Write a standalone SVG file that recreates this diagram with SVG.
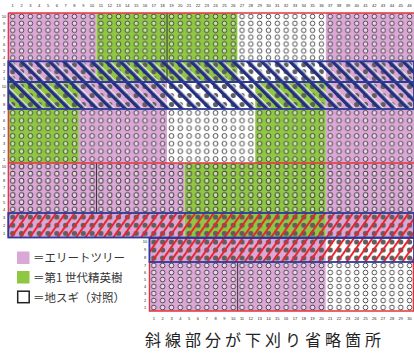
<svg xmlns="http://www.w3.org/2000/svg" width="414" height="356" viewBox="0 0 414 356">
<style>
.oc{fill:#fff;fill-opacity:.5;stroke:#3c3c3c;stroke-width:.9}
.hc{fill:#5e5e5e}
.pk{fill:#dba7d6}
.gr{fill:#8fc743}
.wh{fill:#fff}
.bl{fill:none;stroke:#2b3a9c;stroke-width:1.8}
.rd{fill:none;stroke:#e8303a;stroke-width:1.3}
.dk{fill:none;stroke:#3a3a3a;stroke-width:1}
.n{font-family:"Liberation Sans",Arial,sans-serif;font-size:4px;fill:#222;text-anchor:middle}
.lg{font-family:"Noto Sans CJK JP","Noto Sans",sans-serif;font-size:11.5px;fill:#333}
.cap{font-family:"Noto Sans CJK JP","Noto Sans",sans-serif;font-size:16px;fill:#222;letter-spacing:4px}
</style>
<defs>
<pattern id="pc1" patternUnits="userSpaceOnUse" x="8.3" y="13" width="8.82" height="6.9"><circle class="oc" cx="4.41" cy="3.45" r="2.3"/></pattern>
<pattern id="pc2" patternUnits="userSpaceOnUse" x="8.3" y="109" width="8.82" height="7.7"><circle class="oc" cx="4.41" cy="3.85" r="2.4"/></pattern>
<pattern id="pc3" patternUnits="userSpaceOnUse" x="8.3" y="163" width="8.82" height="7.14"><circle class="oc" cx="4.41" cy="3.57" r="2.35"/></pattern>
<pattern id="pc4" patternUnits="userSpaceOnUse" x="8.3" y="262" width="8.82" height="7"><circle class="oc" cx="4.41" cy="3.5" r="2.35"/></pattern>
<pattern id="ph1" patternUnits="userSpaceOnUse" x="8.3" y="61.3" width="8.82" height="6.9"><circle class="hc" cx="4.41" cy="3.45" r="2.5"/></pattern>
<pattern id="ph2" patternUnits="userSpaceOnUse" x="8.3" y="82" width="8.82" height="9"><circle class="hc" cx="4.41" cy="4.5" r="2.6"/></pattern>
<pattern id="ph3" patternUnits="userSpaceOnUse" x="8.3" y="213" width="8.82" height="8.17"><circle class="hc" cx="4.41" cy="4.08" r="2.6"/></pattern>
<pattern id="ph4" patternUnits="userSpaceOnUse" x="8.3" y="238" width="8.82" height="8"><circle class="hc" cx="4.41" cy="4" r="2.6"/></pattern>
<pattern id="hb" patternUnits="userSpaceOnUse" width="10" height="10" patternTransform="rotate(-45)"><rect width="3.6" height="10" fill="#22307f"/><rect x="3.6" width="1.3" height="10" fill="#fff" fill-opacity=".85"/></pattern>
<pattern id="hr" patternUnits="userSpaceOnUse" width="7.6" height="10" patternTransform="rotate(35)"><rect width="2" height="10" fill="#e8262e"/></pattern>
</defs>

<g id="fields">
<rect class="pk" x="8.3" y="13" width="88.2" height="69"/>
<rect class="gr" x="96.5" y="13" width="141.12" height="69"/>
<rect class="wh" x="237.62" y="13" width="88.2" height="69"/>
<rect class="pk" x="325.82" y="13" width="88.18" height="69"/>
<rect class="gr" x="8.3" y="82" width="70.56" height="81"/>
<rect class="pk" x="78.86" y="82" width="88.2" height="81"/>
<rect class="wh" x="167.06" y="82" width="88.2" height="81"/>
<rect class="gr" x="255.26" y="82" width="70.56" height="81"/>
<rect class="pk" x="325.82" y="82" width="88.18" height="81"/>
<rect class="pk" x="8.3" y="163" width="176.4" height="74.5"/>
<rect class="gr" x="184.7" y="163" width="141.12" height="74.5"/>
<rect class="pk" x="325.82" y="163" width="88.18" height="74.5"/>
<rect class="pk" x="149.42" y="238" width="176.4" height="73"/>
<rect class="wh" x="325.82" y="238" width="88.18" height="73"/>
</g>

<g id="trees">
<rect x="8.3" y="13" width="405.7" height="48.3" fill="url(#pc1)"/>
<rect x="8.3" y="109" width="405.7" height="54" fill="url(#pc2)"/>
<rect x="8.3" y="163" width="405.7" height="50" fill="url(#pc3)"/>
<rect x="149.42" y="262" width="264.58" height="49" fill="url(#pc4)"/>
<rect x="8.3" y="61.3" width="405.7" height="20.7" fill="url(#ph1)"/>
<rect x="8.3" y="82" width="405.7" height="27" fill="url(#ph2)"/>
<rect x="8.3" y="213" width="405.7" height="24.5" fill="url(#ph3)"/>
<rect x="149.42" y="238" width="264.58" height="24" fill="url(#ph4)"/>
</g>

<g id="hatching">
<rect x="8.3" y="61.3" width="405.7" height="47.7" fill="url(#hb)"/>
<rect x="8.3" y="213" width="405.7" height="24.5" fill="url(#hr)"/>
<rect x="149.42" y="238" width="264.58" height="24" fill="url(#hr)"/>
</g>

<g id="lines">
<line class="dk" x1="167.06" y1="13" x2="167.06" y2="82"/>
<line class="dk" x1="96.5" y1="163" x2="96.5" y2="213"/>
<line class="dk" x1="237.62" y1="262" x2="237.62" y2="311"/>
<line class="rd" x1="8.3" y1="13" x2="414" y2="13"/>
<line class="rd" x1="8.3" y1="13" x2="8.3" y2="237.5"/>
<line class="rd" x1="8.3" y1="163" x2="414" y2="163"/>
<polyline class="rd" points="149.42,262 149.42,311 413.4,311 413.4,262"/>
<rect class="bl" x="8.3" y="61.3" width="405.7" height="20.7"/>
<rect class="bl" x="8.3" y="82" width="405.7" height="27"/>
<rect class="bl" x="8.3" y="213" width="405.7" height="24.5"/>
<rect class="bl" x="149.42" y="238" width="264.58" height="24"/>
</g>

<g id="col-numbers-top">
<text class="n" x="12.7" y="7">1</text><text class="n" x="21.5" y="7">2</text><text class="n" x="30.4" y="7">3</text><text class="n" x="39.2" y="7">4</text><text class="n" x="48" y="7">5</text><text class="n" x="56.8" y="7">6</text><text class="n" x="65.6" y="7">7</text><text class="n" x="74.4" y="7">8</text><text class="n" x="83.3" y="7">9</text><text class="n" x="92.1" y="7">10</text>
<text class="n" x="100.9" y="7">11</text><text class="n" x="109.7" y="7">12</text><text class="n" x="118.5" y="7">13</text><text class="n" x="127.3" y="7">14</text><text class="n" x="136.2" y="7">15</text><text class="n" x="145" y="7">16</text><text class="n" x="153.8" y="7">17</text><text class="n" x="162.6" y="7">18</text><text class="n" x="171.5" y="7">19</text><text class="n" x="180.3" y="7">20</text>
<text class="n" x="189.1" y="7">21</text><text class="n" x="197.9" y="7">22</text><text class="n" x="206.7" y="7">23</text><text class="n" x="215.5" y="7">24</text><text class="n" x="224.4" y="7">25</text><text class="n" x="233.2" y="7">26</text><text class="n" x="242" y="7">27</text><text class="n" x="250.8" y="7">28</text><text class="n" x="259.7" y="7">29</text><text class="n" x="268.5" y="7">30</text>
<text class="n" x="277.3" y="7">31</text><text class="n" x="286.1" y="7">32</text><text class="n" x="294.9" y="7">33</text><text class="n" x="303.7" y="7">34</text><text class="n" x="312.6" y="7">35</text><text class="n" x="321.4" y="7">36</text><text class="n" x="330.2" y="7">37</text><text class="n" x="339" y="7">38</text><text class="n" x="347.9" y="7">39</text><text class="n" x="356.7" y="7">40</text>
<text class="n" x="365.5" y="7">41</text><text class="n" x="374.3" y="7">42</text><text class="n" x="383.1" y="7">43</text><text class="n" x="391.9" y="7">44</text><text class="n" x="400.8" y="7">45</text><text class="n" x="409.6" y="7">46</text>
</g>

<g id="col-numbers-bottom">
<text class="n" x="153.8" y="320">1</text><text class="n" x="162.6" y="320">2</text><text class="n" x="171.5" y="320">3</text><text class="n" x="180.3" y="320">4</text><text class="n" x="189.1" y="320">5</text><text class="n" x="197.9" y="320">6</text><text class="n" x="206.7" y="320">7</text><text class="n" x="215.5" y="320">8</text><text class="n" x="224.4" y="320">9</text><text class="n" x="233.2" y="320">10</text>
<text class="n" x="242" y="320">11</text><text class="n" x="250.8" y="320">12</text><text class="n" x="259.7" y="320">13</text><text class="n" x="268.5" y="320">14</text><text class="n" x="277.3" y="320">15</text><text class="n" x="286.1" y="320">16</text><text class="n" x="294.9" y="320">17</text><text class="n" x="303.7" y="320">18</text><text class="n" x="312.6" y="320">19</text><text class="n" x="321.4" y="320">20</text>
<text class="n" x="330.2" y="320">21</text><text class="n" x="339" y="320">22</text><text class="n" x="347.9" y="320">23</text><text class="n" x="356.7" y="320">24</text><text class="n" x="365.5" y="320">25</text><text class="n" x="374.3" y="320">26</text><text class="n" x="383.1" y="320">27</text><text class="n" x="391.9" y="320">28</text><text class="n" x="400.8" y="320">29</text><text class="n" x="409.6" y="320">30</text>
</g>

<g id="row-numbers">
<text class="n" x="4" y="17.9">10</text><text class="n" x="4" y="24.8">9</text><text class="n" x="4" y="31.7">8</text><text class="n" x="4" y="38.6">7</text><text class="n" x="4" y="45.5">6</text><text class="n" x="4" y="52.4">5</text><text class="n" x="4" y="59.3">4</text><text class="n" x="4" y="66.2">3</text><text class="n" x="4" y="73.1">2</text><text class="n" x="4" y="80">1</text>
<text class="n" x="4" y="87.9">10</text><text class="n" x="4" y="96.9">9</text><text class="n" x="4" y="105.9">8</text><text class="n" x="4" y="114.3">7</text><text class="n" x="4" y="122">6</text><text class="n" x="4" y="129.7">5</text><text class="n" x="4" y="137.4">4</text><text class="n" x="4" y="145.1">3</text><text class="n" x="4" y="152.8">2</text><text class="n" x="4" y="160.5">1</text>
<text class="n" x="4" y="168">10</text><text class="n" x="4" y="175.1">9</text><text class="n" x="4" y="182.3">8</text><text class="n" x="4" y="189.4">7</text><text class="n" x="4" y="196.5">6</text><text class="n" x="4" y="203.7">5</text><text class="n" x="4" y="210.8">4</text><text class="n" x="4" y="218.5">3</text><text class="n" x="4" y="226.7">2</text><text class="n" x="4" y="234.8">1</text>
<text class="n" x="145" y="243.4">10</text><text class="n" x="145" y="251.4">9</text><text class="n" x="145" y="259.4">8</text><text class="n" x="145" y="266.9">7</text><text class="n" x="145" y="273.9">6</text><text class="n" x="145" y="280.9">5</text><text class="n" x="145" y="287.9">4</text><text class="n" x="145" y="294.9">3</text><text class="n" x="145" y="301.9">2</text><text class="n" x="145" y="308.9">1</text>
</g>

<g id="legend">
<rect class="pk" x="17" y="251.5" width="12.5" height="12.5"/>
<text class="lg" x="33" y="262">＝エリートツリー</text>
<rect class="gr" x="17" y="271" width="12.5" height="12.5"/>
<text class="lg" x="33" y="281.5">＝第1 世代精英樹</text>
<rect x="17.7" y="291.2" width="11.5" height="11.5" fill="#fff" stroke="#222" stroke-width="1.5"/>
<text class="lg" x="33" y="301.5">＝地スギ（対照）</text>
</g>

<text class="cap" x="145" y="346">斜線部分が下刈り省略箇所</text>
</svg>
